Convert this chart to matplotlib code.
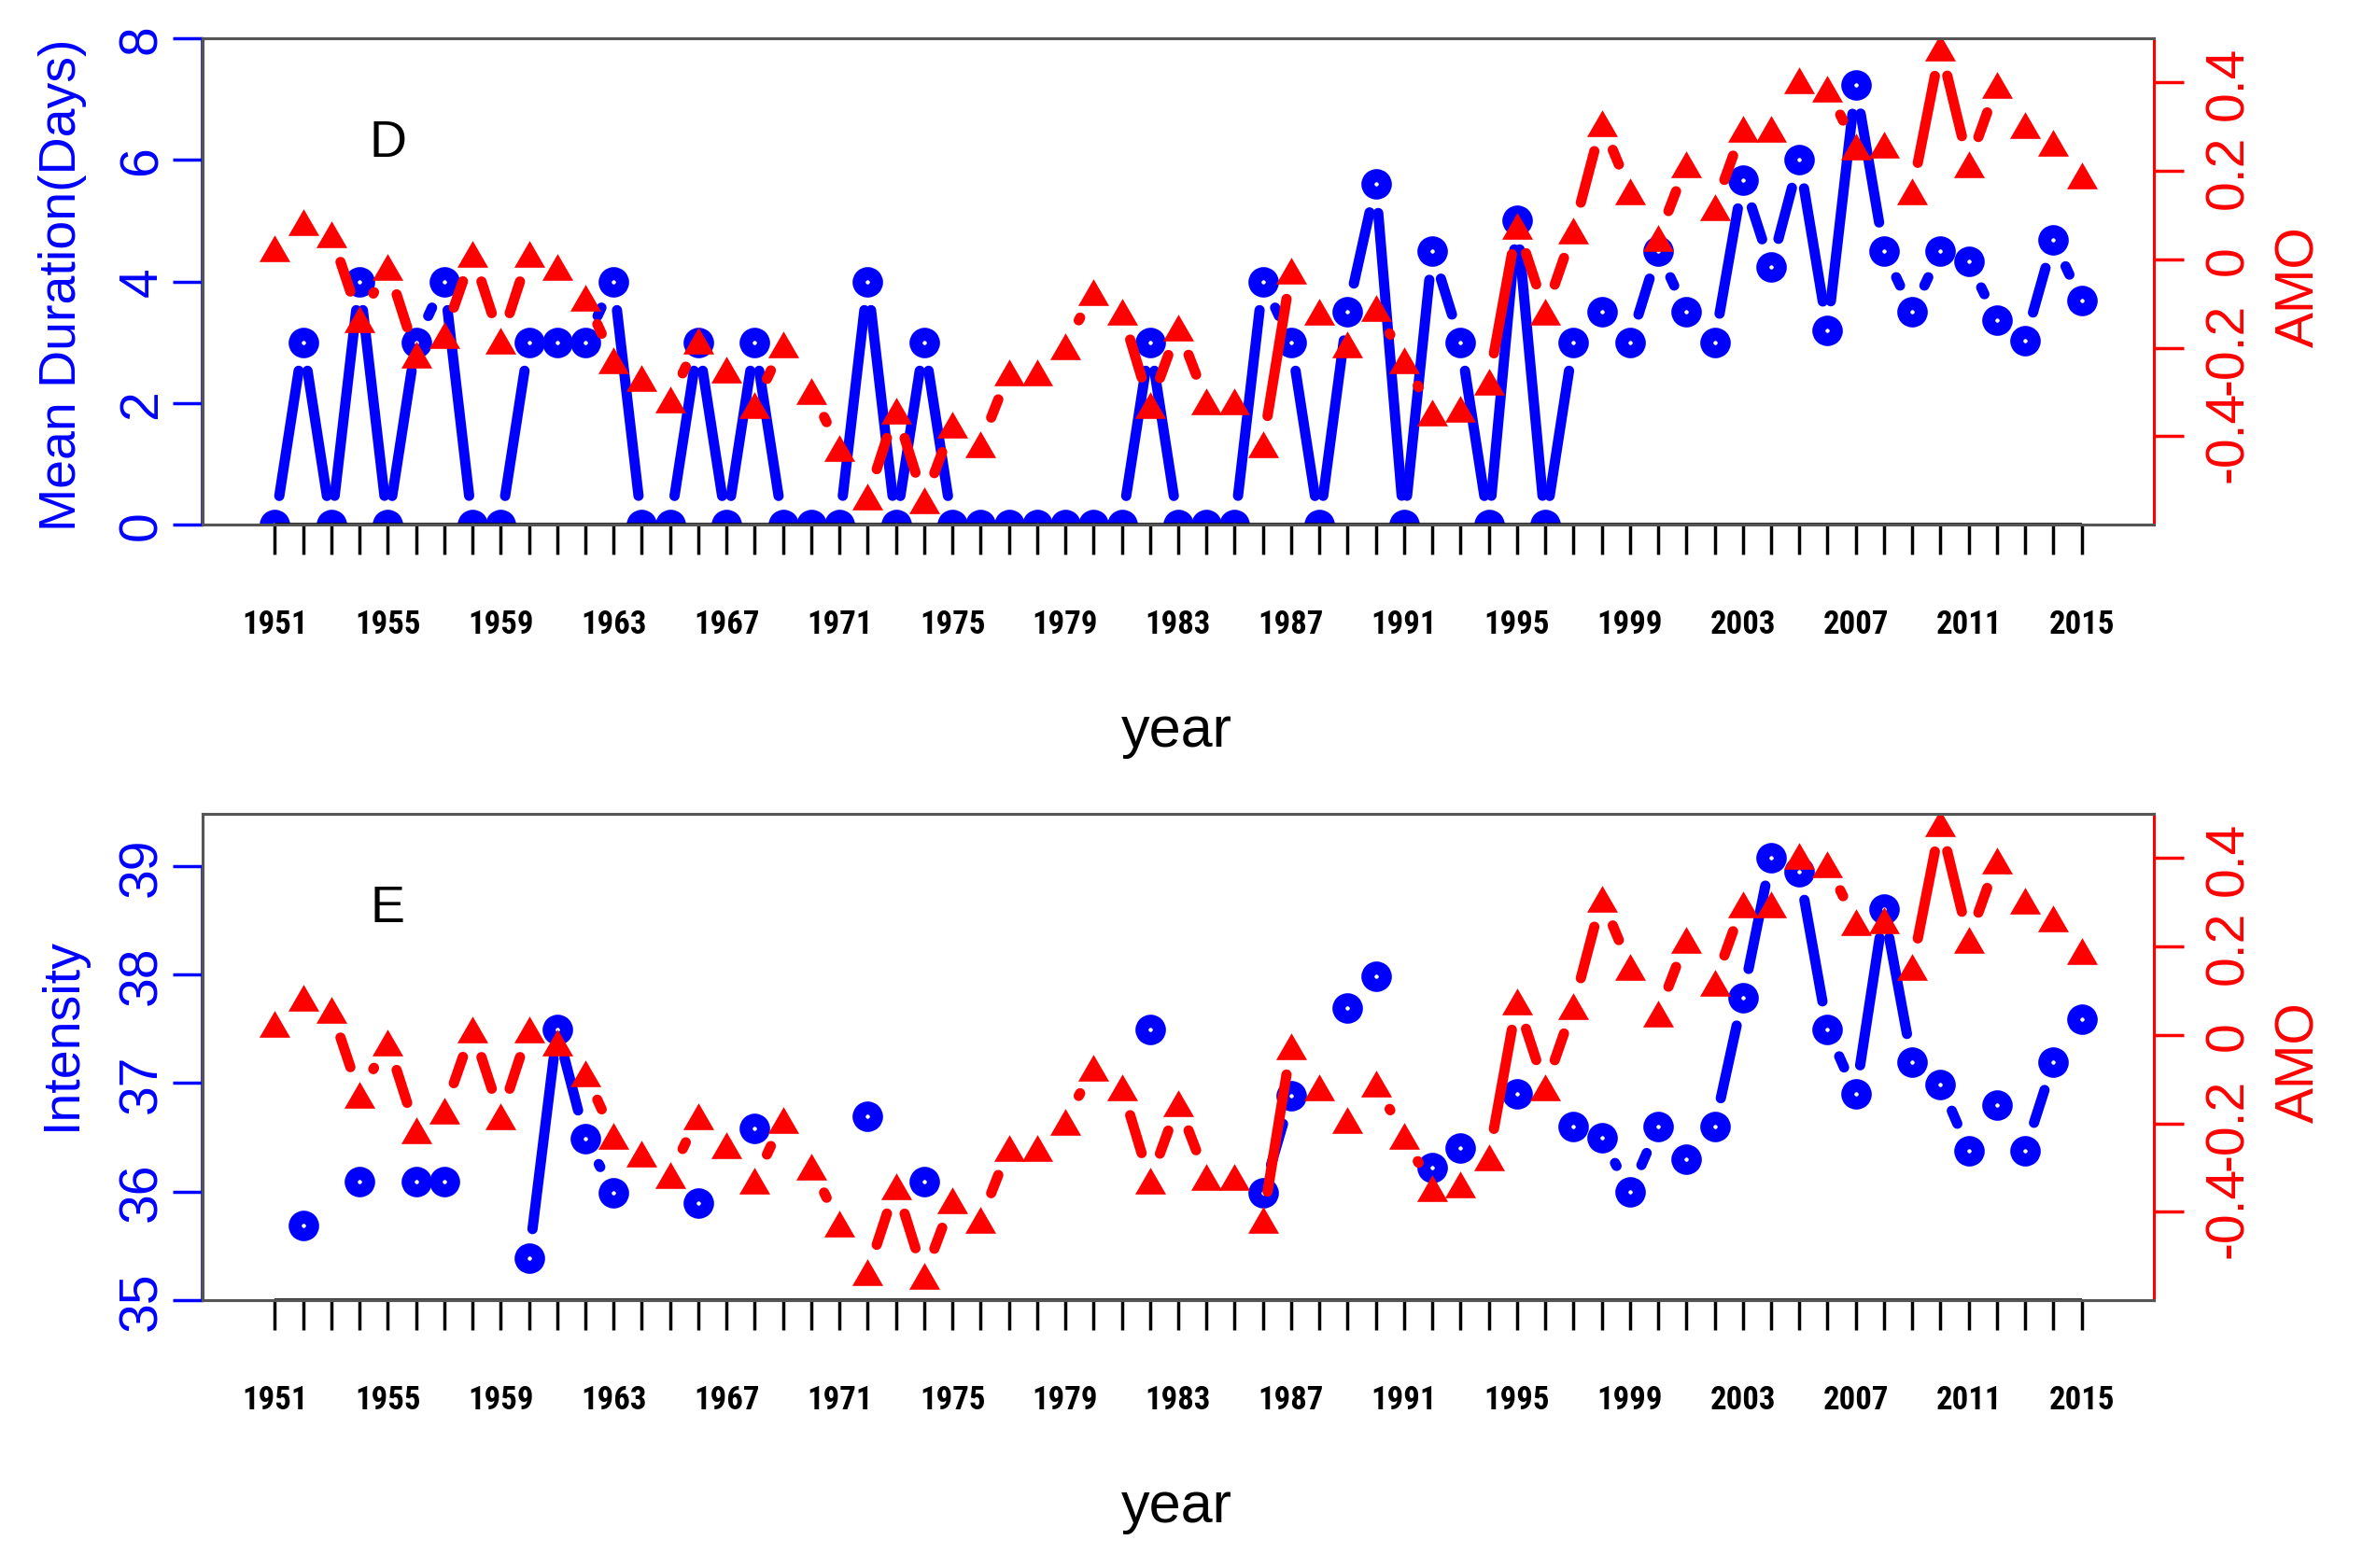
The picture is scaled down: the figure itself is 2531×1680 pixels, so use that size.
import numpy as np
import matplotlib
matplotlib.use('Agg')
import matplotlib.pyplot as plt
from matplotlib.collections import LineCollection
from matplotlib import font_manager

# data, one value per year 1951-2015
years = np.arange(1951, 2016)

duration = [0, 3, 0, 4, 0, 3, 4, 0, 0, 3,
            3, 3, 4, 0, 0, 3, 0, 3, 0, 0,
            0, 4, 0, 3, 0, 0, 0, 0, 0, 0,
            0, 3, 0, 0, 0, 4, 3, 0, 3.5, 5.6,
            0, 4.5, 3, 0, 5, 0, 3, 3.5, 3, 4.5,
            3.5, 3, 5.67, 4.24, 6.0, 3.2, 7.23, 4.5, 3.5, 4.5,
            4.33, 3.36, 3.03, 4.68, 3.68]

nan = np.nan
intensity = [nan, 35.69, nan, 36.09, nan, 36.09, 36.09, nan, nan, 35.39,
             37.49, 36.49, 35.99, nan, nan, 35.89, nan, 36.58, nan, nan,
             nan, 36.69, nan, 36.09, nan, nan, nan, nan, nan, nan,
             nan, 37.49, nan, nan, nan, 35.99, 36.88, nan, 37.69, 37.98,
             nan, 36.22, 36.40, nan, 36.90, nan, 36.60, 36.50, 36.00, 36.60,
             36.30, 36.60, 37.79, 39.08, 38.95, 37.49, 36.90, 38.60, 37.19, 36.99,
             36.38, 36.80, 36.38, 37.19, 37.59]

amo = [0.025, 0.084, 0.056, -0.135, -0.017, -0.216, -0.171, 0.012, -0.184, 0.012,
       -0.017, -0.087, -0.228, -0.269, -0.317, -0.184, -0.250, -0.330, -0.192, -0.298,
       -0.427, -0.537, -0.342, -0.545, -0.375, -0.419, -0.256, -0.256, -0.196, -0.074,
       -0.119, -0.330, -0.155, -0.322, -0.322, -0.419, -0.025, -0.119, -0.192, -0.110,
       -0.228, -0.347, -0.338, -0.277, 0.076, -0.119, 0.065, 0.308, 0.154, 0.048,
       0.215, 0.118, 0.296, 0.296, 0.405, 0.386, 0.255, 0.259, 0.154, 0.479,
       0.215, 0.394, 0.304, 0.263, 0.190]

dur_ticks = [0, 2, 4, 6, 8]
int_ticks = [35, 36, 37, 38, 39]
amo_ticks = [-0.4, -0.2, 0, 0.2, 0.4]
amo_labels = ['-0.4', '-0.2', '0', '0.2', '0.4']
year_labels = [str(y) if (y - years[0]) % 4 == 0 else '' for y in years]

BLUE = '#0000FF'
RED = '#FF0000'
BOX = '#555555'
GAP = 31  # px left open around each point (R type="b")
LW = 7.9

plt.rcParams['font.family'] = ['Liberation Sans', 'DejaVu Sans']

# narrow font for the year labels, whichever is available
fonts = font_manager.fontManager.ttflist
names = {f.name for f in fonts}
xt_kw = dict(fontfamily='Liberation Sans', fontsize=21.5, fontweight='bold')
if 'Liberation Sans Narrow' in names:
    xt_kw = dict(fontfamily='Liberation Sans Narrow', fontsize=25.5,
                 fontweight='bold')
elif 'Roboto Condensed' in names:
    xt_kw = dict(fontfamily='Roboto Condensed', fontsize=25, fontweight='bold')
elif any(f.name == 'DejaVu Sans' and f.stretch == 'condensed' for f in fonts):
    xt_kw = dict(fontfamily='DejaVu Sans', fontstretch='condensed',
                 fontsize=22, fontweight='bold')

# equilateral triangle centred on its bounding box
tri = [(0, 0.433), (-0.5, -0.433), (0.5, -0.433), (0, 0.433)]

W, H = 2531, 1681
fig = plt.figure(figsize=(W / 100, H / 100), dpi=100)


def gapped_line(ax, x, y, color):
    pts = ax.transData.transform(np.column_stack([x, y]))
    inv = ax.transData.inverted()
    segs = []
    for p0, p1 in zip(pts[:-1], pts[1:]):
        if np.isnan(p0).any() or np.isnan(p1).any():
            continue
        d = p1 - p0
        L = np.hypot(*d)
        if L <= 2 * GAP:
            continue
        u = d / L
        segs.append(inv.transform(np.array([p0 + u * GAP, p1 - u * GAP])))
    ax.add_collection(LineCollection(segs, colors=color, linewidths=LW,
                                     capstyle='round'))


def panel(top_px, values, ylim, yticks, ylabel, ylabel_px, letter, letter_y):
    left, right = 217, 2307
    height = 521
    ax = fig.add_axes([left / W, 1 - (top_px + height) / H,
                       (right - left) / W, height / H])
    span = years[-1] - years[0]
    ax.set_xlim(years[0] - 0.04 * span, years[-1] + 0.04 * span)
    ax.set_ylim(*ylim)
    ax2 = ax.twinx()
    ax2.set_ylim(-0.6, 0.5)

    # blue series
    gapped_line(ax, years, values, BLUE)
    ax.plot(years, values, ls='none', marker='o', ms=13.5, mfc='none',
            mec=BLUE, mew=10)
    # red AMO series
    gapped_line(ax2, years, amo, RED)
    ax2.plot(years, amo, ls='none', marker=tri, ms=23.8, mfc=RED, mec=RED,
             mew=0)

    # frame
    for a in (ax, ax2):
        for s in a.spines.values():
            s.set_color(BOX)
            s.set_linewidth(2.2)
    ax2.spines['right'].set_color(RED)
    x0 = ax.get_xlim()[0]
    ax.plot([x0, x0], [yticks[0], yticks[-1]], color=BLUE, lw=2.6,
            clip_on=False, solid_capstyle='butt')
    ax.plot([years[0], years[-1]], [ylim[0], ylim[0]], color='black', lw=2.6,
            clip_on=False, solid_capstyle='butt')

    # ticks
    ax.set_xticks(years)
    ax.set_xticklabels(year_labels, **xt_kw)
    ax.tick_params(axis='x', direction='out', length=23, width=2.5,
                   color='black', pad=42)
    ax.set_yticks(yticks)
    ax.set_yticklabels([str(t) for t in yticks], rotation=90, va='center',
                       fontsize=41)
    ax.tick_params(axis='y', colors=BLUE, length=23, width=2.5, pad=4)
    ax2.set_yticks(amo_ticks)
    ax2.set_yticklabels(amo_labels, rotation=90, va='center', fontsize=41)
    ax2.tick_params(axis='y', colors=RED, length=23, width=2.5, pad=15)

    # labels
    fig.text(67 / W, 1 - ylabel_px / H, ylabel, rotation=90, color=BLUE,
             fontsize=40, ha='center', va='center')
    fig.text(2463 / W, 1 - (top_px + 265) / H, 'AMO', rotation=90, color=RED,
             fontsize=41, ha='center', va='center')
    fig.text(1260 / W, 1 - (top_px + 743) / H, 'year', color='black',
             fontsize=44, ha='center', va='center')
    ax.text(1955, letter_y, letter, fontsize=40, ha='center', va='center')
    return ax


panel(42, duration, (0, 8), dur_ticks, 'Mean Duration(Days)', 305, 'D', 6.28)
panel(873, intensity, (35, 39.48), int_ticks, 'Intensity', 1108, 'E', 38.61)

fig.savefig('out.png', dpi=100)
